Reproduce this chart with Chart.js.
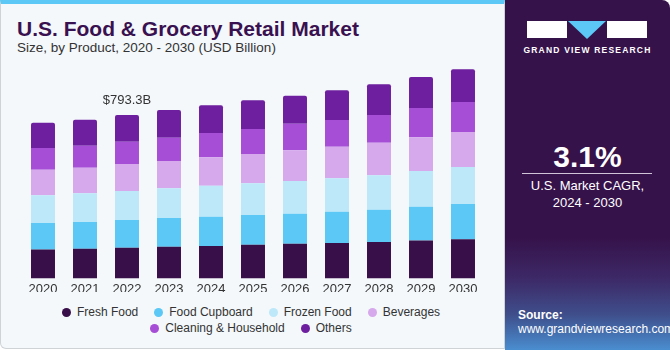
<!DOCTYPE html>
<html>
<head>
<meta charset="utf-8">
<script src="https://cdn.jsdelivr.net/npm/chart.js@4"></script>
<style>
  body { margin: 0; width: 670px; height: 350px; background: #fff; font-family: "Liberation Sans", Arial, sans-serif; position: relative; overflow: hidden; }
  #left { position: absolute; left: 0; top: 0; width: 503px; height: 344px; background: #f4f8fb; border: 1px solid #cfd3d6; border-top: 4px solid #5bc8f5; border-radius: 0 0 0 6px; }
  #title { position: absolute; left: 17px; top: 17px; font-size: 21px; font-weight: bold; color: #3a1150; white-space: nowrap; }
  #subtitle { position: absolute; left: 17px; top: 40px; font-size: 13.5px; color: #333; white-space: nowrap; }
  #wrap { position: absolute; left: 0; top: 0; width: 500px; height: 294px; }
  #legend { position: absolute; left: 0; top: 304px; width: 502px; font-size: 12px; color: #333; text-align: center; line-height: 16px; }
  #legend span.item { display: inline-block; margin: 0 8px; white-space: nowrap; }
  #legend span.dot { display: inline-block; width: 9px; height: 9px; border-radius: 50%; margin-right: 6px; vertical-align: -1px; }
  #right { position: absolute; left: 505px; top: 0; width: 165px; height: 350px; border-radius: 0 8px 0 0;
    background: linear-gradient(to bottom, #36124a 0%, #36124a 68%, #3d2a68 80%, #3f4f8c 90%, #4a8ed0 100%); color: #fff; }
  .blk { position: absolute; background: #fff; }
  #brand { position: absolute; left: 0; width: 165px; top: 45px; text-align: center; font-size: 8.5px; font-weight: bold; letter-spacing: 1.2px; }
  #cagr { position: absolute; left: 0; width: 165px; top: 140px; text-align: center; font-size: 30px; font-weight: bold; }
  #rule { position: absolute; left: 17px; width: 130px; top: 173px; height: 1px; background: #cfc4d8; }
  #cagrtxt { position: absolute; left: 0; width: 165px; top: 177px; text-align: center; font-size: 13px; line-height: 17px; }
  #src { position: absolute; left: 13px; top: 308px; font-size: 12px; line-height: 14px; }
</style>
</head>
<body>
<div id="left"></div>
<div id="title">U.S. Food &amp; Grocery Retail Market</div>
<div id="subtitle">Size, by Product, 2020 - 2030 (USD Billion)</div>
<div id="wrap"><canvas id="chart"></canvas></div>
<div id="legend"></div>
<div id="right">
  <div class="blk" style="left:22px;top:21px;width:40px;height:17px;"></div>
  <div class="blk" style="left:102px;top:21px;width:40px;height:17px;"></div>
  <div style="position:absolute;left:63px;top:21px;width:0;height:0;border-left:19px solid transparent;border-right:19px solid transparent;border-top:18px solid #5bc8f5;"></div>
  <div id="brand">GRAND VIEW RESEARCH</div>
  <div id="cagr">3.1%</div>
  <div id="rule"></div>
  <div id="cagrtxt">U.S. Market CAGR,<br>2024 - 2030</div>
  <div id="src"><b>Source:</b><br>www.grandviewresearch.com</div>
</div>
<script>
const years = ['2020', '2021', '2022', '2023', '2024', '2025', '2026', '2027', '2028', '2029', '2030'];
const seriesNames = ['Fresh Food', 'Food Cupboard', 'Frozen Food', 'Beverages', 'Cleaning & Household', 'Others'];
const seriesColors = ['#380f48', '#5bc8f5', '#bde8f9', '#d6a8ec', '#a64fd6', '#6d1f9f'];
const freshFood = [140.9, 143.8, 148.7, 153.5, 156.9, 163.2, 168.1, 171.5, 176.3, 184.6, 189.5];
const foodCupboard = [127.8, 129.7, 134.6, 139.4, 142.3, 144.3, 145.7, 152.1, 156.9, 163.2, 171.5];
const frozenFood = [134.6, 139.4, 140.9, 144.3, 150.6, 154.0, 158.9, 162.3, 167.1, 173.4, 179.7];
const beverages = [124.4, 124.4, 131.2, 132.6, 138.0, 142.3, 149.1, 153.5, 158.4, 163.7, 170.0];
const cleaning = [105.4, 106.9, 108.3, 113.2, 118.0, 121.5, 129.2, 129.7, 134.6, 142.3, 145.7];
const others = [122.9, 126.3, 129.6, 134.6, 134.6, 139.4, 136.0, 144.3, 149.1, 150.6, 158.9];
const calloutIndex = 2;
const calloutText = '$793.3B';

const allSeries = [freshFood, foodCupboard, frozenFood, beverages, cleaning, others];

// legend in html
const legend = document.getElementById('legend');
seriesNames.forEach(function(name, i) {
  const item = document.createElement('span');
  item.className = 'item';
  item.innerHTML = '<span class="dot" style="background:' + seriesColors[i] + '"></span>' + name.replace('&', '&amp;');
  legend.appendChild(item);
  if (i === 3) legend.appendChild(document.createElement('br'));
});

const callout = {
  id: 'callout',
  afterDatasetsDraw(chart) {
    const ctx = chart.ctx;
    let total = 0;
    allSeries.forEach(s => total += s[calloutIndex]);
    const x = chart.scales.x.getPixelForValue(calloutIndex);
    const y = chart.scales.y.getPixelForValue(total) - 15;
    ctx.save();
    ctx.font = '13px "Liberation Sans", Arial, sans-serif';
    ctx.fillStyle = '#333';
    ctx.textAlign = 'center';
    ctx.textBaseline = 'middle';
    ctx.fillText(calloutText, x, y);
    ctx.restore();
  }
};

new Chart(document.getElementById('chart'), {
  type: 'bar',
  data: {
    labels: years,
    datasets: allSeries.map(function(s, i) {
      return {
        label: seriesNames[i],
        data: s,
        backgroundColor: seriesColors[i],
        borderWidth: 0,
        borderRadius: i === 5 ? { topLeft: 2, topRight: 2 } : 0,
        borderSkipped: false,
        categoryPercentage: 1,
        barPercentage: 0.571
      };
    })
  },
  options: {
    responsive: true,
    maintainAspectRatio: false,
    animation: false,
    layout: { padding: { left: 22, right: 16, top: 50, bottom: 2 } },
    plugins: { legend: { display: false }, tooltip: { enabled: false } },
    scales: {
      x: {
        stacked: true,
        grid: { display: false },
        border: { display: false },
        ticks: { color: '#333', padding: -5, font: { size: 13, family: '"Liberation Sans", Arial, sans-serif' } }
      },
      y: {
        stacked: true,
        display: false,
        min: 0,
        max: 1109
      }
    }
  },
  plugins: [callout]
});
</script>
</body>
</html>
